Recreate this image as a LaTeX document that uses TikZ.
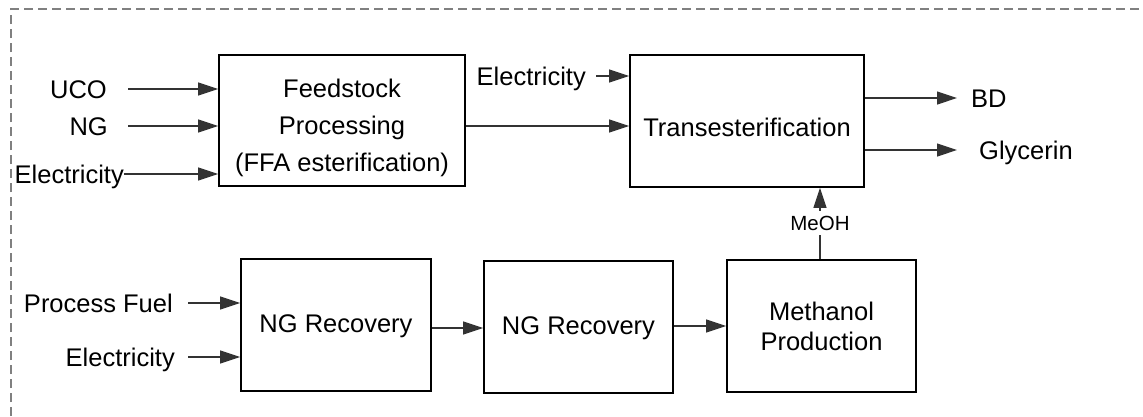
\documentclass[tikz,border=0pt]{standalone}
\usepackage{fontspec}
\setmainfont{Liberation Sans}
\usetikzlibrary{arrows.meta}
\begin{document}
\begin{tikzpicture}[x=1pt,y=-1pt,
  blk/.style={draw=black, line width=1.8pt, inner sep=0pt},
  txt/.style={inner sep=0pt, align=center, font=\fontsize{25.5}{37}\selectfont},
  lbl/.style={inner sep=0pt, font=\fontsize{25.5}{30}\selectfont},
  flow/.style={draw=black!80, line width=1.2pt, -{Triangle[length=20pt,width=13pt]}},
  border/.style={draw=black!50, line width=1.2pt, dash pattern=on 9pt off 5pt},
]
\useasboundingbox (0,0) rectangle (1143,416);
\draw[border] (11,416) -- (11,9) -- (1143,9);

% boxes
\node[blk, minimum width=246pt, minimum height=131pt] (feed) at (342,120.5) {};
\node[blk, minimum width=234pt, minimum height=132pt] (trans) at (747,121) {};
\node[blk, minimum width=190pt, minimum height=132pt] (ng1) at (336,325) {};
\node[blk, minimum width=189pt, minimum height=132pt] (ng2) at (578.5,327) {};
\node[blk, minimum width=189pt, minimum height=132pt] (meth) at (821.5,326) {};

% box texts
\node[txt] (feedtxt) at (342,128) {Feedstock\\Processing\\(FFA esterification)};
\node[txt] (transtxt) at (747,127) {Transesterification};
\node[txt] (ng1txt) at (336,326) {NG Recovery};
\node[txt] (ng2txt) at (578.5,328) {NG Recovery};
\node[txt, font=\fontsize{25.5}{30}\selectfont] (methtxt) at (821.5,326) {Methanol\\Production};

% labels
\node[lbl, anchor=base east] (uco) at (107,98) {UCO};
\node[lbl, anchor=base east] (ng) at (108,135) {NG};
\node[lbl, anchor=base east] (elec1) at (124,183) {Electricity};
\node[lbl, anchor=base east] (elec2) at (586,85) {Electricity};
\node[lbl, anchor=base west] (bd) at (971,107) {BD};
\node[lbl, anchor=base west] (gly) at (979,159) {Glycerin};
\node[lbl, anchor=base east] (pf) at (173,312) {Process Fuel};
\node[lbl, anchor=base east] (elec3) at (175,366) {Electricity};

% start/end coordinates
\coordinate (ucos) at (128,89);
\coordinate (ngs) at (128,126);
\coordinate (e1s) at (124,174);
\coordinate (e2s) at (596,76);
\coordinate (bde) at (957,98);
\coordinate (glye) at (957,150);
\coordinate (pfs) at (188,303);
\coordinate (e3s) at (188,357);

% connectors
\draw[flow] (ucos) -- (feed.west |- ucos);
\draw[flow] (ngs) -- (feed.west |- ngs);
\draw[flow] (e1s) -- (feed.west |- e1s);
\draw[flow] (feed.east |- 0,126) -- (trans.west |- 0,126);
\draw[flow] (e2s) -- (trans.west |- e2s);
\draw[flow] (trans.east |- bde) -- (bde);
\draw[flow] (trans.east |- glye) -- (glye);
\draw[flow] (pfs) -- (ng1.west |- pfs);
\draw[flow] (e3s) -- (ng1.west |- e3s);
\draw[flow] (ng1.east |- 0,328) -- (ng2.west |- 0,328);
\draw[flow] (ng2.east |- 0,326) -- (meth.west |- 0,326);
\draw[flow] (meth.north -| 820,0) -- (trans.south -| 820,0);
\node[fill=white, inner xsep=1pt, inner ysep=5pt, font=\fontsize{20.5}{24}\selectfont] (meoh) at (820,223) {MeOH};
\end{tikzpicture}
\end{document}
